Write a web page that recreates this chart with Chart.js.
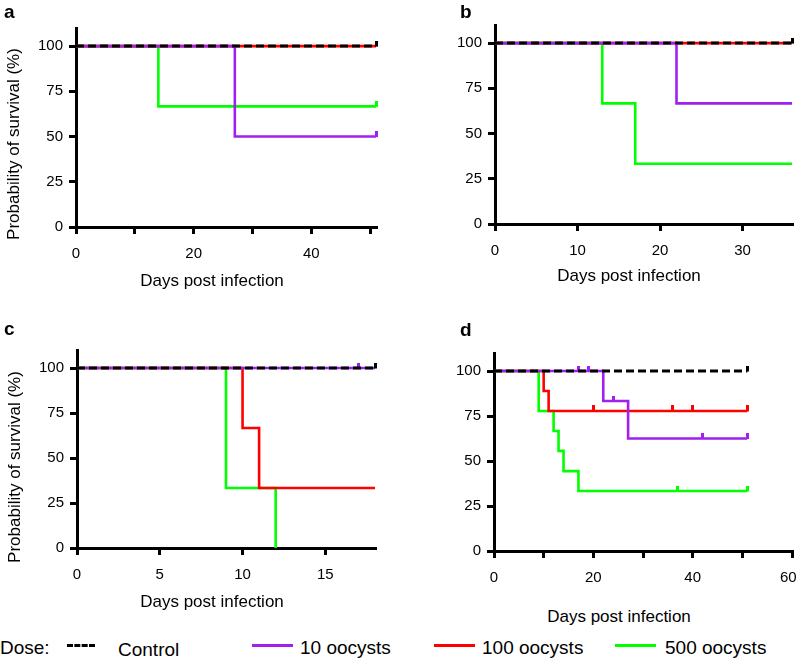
<!DOCTYPE html>
<html>
<head>
<meta charset="utf-8">
<script src="https://cdn.jsdelivr.net/npm/chart.js@4/dist/chart.umd.min.js"></script>
<style>
  html, body { margin: 0; padding: 0; background: #fff; }
  body { width: 797px; height: 660px; position: relative; overflow: hidden; font-family: "Liberation Sans", Arial, sans-serif; color: #000; }
  canvas { position: absolute; }
  .lbl { position: absolute; font-weight: bold; font-size: 19px; line-height: 19px; }
  .xt { position: absolute; width: 300px; text-align: center; font-size: 17px; line-height: 17px; white-space: nowrap; }
  .yt { position: absolute; width: 260px; height: 20px; text-align: center; font-size: 17px; line-height: 20px; white-space: nowrap; transform: rotate(-90deg); transform-origin: 50% 50%; }
  .lg { position: absolute; font-size: 19px; line-height: 19px; white-space: nowrap; }
  .sw { position: absolute; height: 0; width: 41px; }
</style>
</head>
<body>
<canvas id="ca" width="398" height="300" style="left:0;top:0"></canvas>
<canvas id="cb" width="397" height="300" style="left:400px;top:0"></canvas>
<canvas id="cc" width="398" height="300" style="left:0;top:300px"></canvas>
<canvas id="cd" width="397" height="300" style="left:400px;top:300px"></canvas>

<div class="lbl" style="left:4px;top:2px">a</div>
<div class="lbl" style="left:460px;top:2px">b</div>
<div class="lbl" style="left:4px;top:319px">c</div>
<div class="lbl" style="left:460px;top:320px">d</div>

<div class="yt" style="left:-116px;top:134px">Probability of survival (%)</div>
<div class="yt" style="left:-115px;top:457px">Probability of survival (%)</div>

<div class="xt" style="left:62px;top:272px">Days post infection</div>
<div class="xt" style="left:479px;top:267px">Days post infection</div>
<div class="xt" style="left:62px;top:593px">Days post infection</div>
<div class="xt" style="left:469px;top:608px">Days post infection</div>

<div class="lg" style="left:0;top:638px">Dose:</div>
<div class="sw" style="left:67px;top:644px;width:28px;border-top:3px dashed #000"></div>
<div class="lg" style="left:118px;top:640px">Control</div>
<div class="sw" style="left:252px;top:644px;border-top:3px solid #a020f0"></div>
<div class="lg" style="left:300px;top:638px">10 oocysts</div>
<div class="sw" style="left:434px;top:644px;border-top:3px solid #ff0000"></div>
<div class="lg" style="left:482px;top:638px">100 oocysts</div>
<div class="sw" style="left:615px;top:644px;border-top:3px solid #00ff00"></div>
<div class="lg" style="left:665px;top:638px">500 oocysts</div>

<script>
// ---------------- DATA ----------------
const seriesNames = ['Control', '10 oocysts', '100 oocysts', '500 oocysts'];
const yTicks = [0, 25, 50, 75, 100];

// Panel a
const aXMax = 51;
const aXTicks = [0, 10, 20, 30, 40, 50];
const aXLabels = [0, 20, 40];
const aControlDays = [0, 51],          aControlSurv = [100, 100];
const a10Days = [0, 27, 51],           a10Surv = [100, 50, 50];
const a100Days = [0, 51],              a100Surv = [100, 100];
const a500Days = [0, 14, 51],          a500Surv = [100, 66.7, 66.7];
const aControlCens = [51], aControlCensSurv = [100];
const a10Cens = [51],      a10CensSurv = [50];
const a100Cens = [],       a100CensSurv = [];
const a500Cens = [51],     a500CensSurv = [66.7];

// Panel b
const bXMax = 36;
const bXTicks = [0, 10, 20, 30];
const bXLabels = [0, 10, 20, 30];
const bControlDays = [0, 36],          bControlSurv = [100, 100];
const b10Days = [0, 22, 36],           b10Surv = [100, 66.7, 66.7];
const b100Days = [0, 36],              b100Surv = [100, 100];
const b500Days = [0, 13, 17, 36],      b500Surv = [100, 66.7, 33.3, 33.3];
const bControlCens = [36], bControlCensSurv = [100];
const b10Cens = [],        b10CensSurv = [];
const b100Cens = [],       b100CensSurv = [];
const b500Cens = [],       b500CensSurv = [];

// Panel c
const cXMax = 18;
const cXTicks = [0, 5, 10, 15];
const cXLabels = [0, 5, 10, 15];
const cControlDays = [0, 18],          cControlSurv = [100, 100];
const c10Days = [0, 18],               c10Surv = [100, 100];
const c100Days = [0, 10, 11, 18],      c100Surv = [100, 66.7, 33.3, 33.3];
const c500Days = [0, 9, 12],           c500Surv = [100, 33.3, 0];
const cControlCens = [18], cControlCensSurv = [100];
const c10Cens = [17],      c10CensSurv = [100];
const c100Cens = [],       c100CensSurv = [];
const c500Cens = [],       c500CensSurv = [];

// Panel d
const dXMax = 60;
const dXTicks = [0, 10, 20, 30, 40, 50, 60];
const dXLabels = [0, 20, 40, 60];
const dControlDays = [0, 51],                   dControlSurv = [100, 100];
const d10Days = [0, 22, 27, 51],                d10Surv = [100, 83.3, 62.5, 62.5];
const d100Days = [0, 10, 11, 51],               d100Surv = [100, 88.9, 77.8, 77.8];
const d500Days = [0, 9, 12, 13, 14, 17, 51],    d500Surv = [100, 77.8, 66.7, 55.6, 44.4, 33.3, 33.3];
const dControlCens = [51],              dControlCensSurv = [100];
const d10Cens = [17, 19, 24, 42, 51],   d10CensSurv = [100, 100, 83.3, 62.5, 62.5];
const d100Cens = [20, 36, 40, 51],      d100CensSurv = [77.8, 77.8, 77.8, 77.8];
const d500Cens = [37, 51],              d500CensSurv = [33.3, 33.3];

// ---------------- STYLE ----------------
const FONT = '"Liberation Sans", Arial, sans-serif';
const COLORS = ['#000000', '#a020f0', '#ff0000', '#00ff00'];
const ORDER = [0, 2, 4, 6]; // lower = drawn on top

function censorMark(color) {
  const c = document.createElement('canvas');
  c.width = 3; c.height = 11;
  const g = c.getContext('2d');
  g.fillStyle = color;
  g.fillRect(0, 0, 3, 6);
  return c;
}

function pts(xs, ys) { return xs.map((x, i) => ({ x: x, y: ys[i] })); }

function makePanel(id, p) {
  const datasets = [];
  p.series.forEach((s, i) => {
    datasets.push({
      label: seriesNames[i],
      data: pts(s.days, s.surv),
      stepped: true,
      borderColor: COLORS[i],
      borderWidth: i === 0 ? 3 : 2.6,
      borderDash: i === 0 ? [8, 4] : [],
      pointRadius: 0,
      fill: false,
      clip: false,
      order: ORDER[i]
    });
    if (s.cens.length) {
      datasets.push({
        label: seriesNames[i] + ' censored',
        data: pts(s.cens, s.censSurv),
        showLine: false,
        pointStyle: censorMark(COLORS[i]),
        pointRadius: 3,
        clip: false,
        order: ORDER[i] - 1
      });
    }
  });

  new Chart(document.getElementById(id), {
    type: 'line',
    data: { datasets },
    options: {
      responsive: false,
      animation: false,
      devicePixelRatio: 1,
      layout: { padding: p.pad },
      plugins: { legend: { display: false }, tooltip: { enabled: false } },
      scales: {
        x: {
          type: 'linear',
          min: 0, max: p.xMax,
          afterBuildTicks: (sc) => { sc.ticks = p.xTicks.map(v => ({ value: v })); },
          afterFit: (sc) => { sc.height = p.xH; sc.paddingLeft = 0; sc.paddingRight = 0; },
          grid: { display: true, drawOnChartArea: false, drawTicks: true, tickLength: 7, color: '#000', lineWidth: 3 },
          border: { display: true, color: '#000', width: 3 },
          ticks: {
            autoSkip: false, maxRotation: 0, padding: 11, color: '#000',
            font: { family: FONT, size: 15 },
            callback: (v) => {
              if (!p.xLabels.includes(v)) return '';
              // keep the last label inside the panel edge
              return (v === p.xMax && p.xMax === 60) ? String(v) + '\u2002' : String(v);
            }
          }
        },
        y: {
          type: 'linear',
          min: 0, max: 110,
          afterBuildTicks: (sc) => { sc.ticks = yTicks.map(v => ({ value: v })); },
          afterFit: (sc) => { sc.width = p.yW; sc.paddingTop = 0; sc.paddingBottom = 0; },
          grid: { display: true, drawOnChartArea: false, drawTicks: true, tickLength: 7, color: '#000', lineWidth: 3 },
          border: { display: true, color: '#000', width: 3 },
          ticks: { padding: 6, color: '#000', font: { family: FONT, size: 15 } }
        }
      }
    }
  });
}

makePanel('ca', {
  xMax: aXMax, xTicks: aXTicks, xLabels: aXLabels,
  pad: { left: 0, top: 28, right: 22, bottom: 0 }, yW: 76, xH: 73,
  series: [
    { days: aControlDays, surv: aControlSurv, cens: aControlCens, censSurv: aControlCensSurv },
    { days: a10Days, surv: a10Surv, cens: a10Cens, censSurv: a10CensSurv },
    { days: a100Days, surv: a100Surv, cens: a100Cens, censSurv: a100CensSurv },
    { days: a500Days, surv: a500Surv, cens: a500Cens, censSurv: a500CensSurv }
  ]
});
makePanel('cb', {
  xMax: bXMax, xTicks: bXTicks, xLabels: bXLabels,
  pad: { left: 0, top: 25, right: 4, bottom: 0 }, yW: 95, xH: 76,
  series: [
    { days: bControlDays, surv: bControlSurv, cens: bControlCens, censSurv: bControlCensSurv },
    { days: b10Days, surv: b10Surv, cens: b10Cens, censSurv: b10CensSurv },
    { days: b100Days, surv: b100Surv, cens: b100Cens, censSurv: b100CensSurv },
    { days: b500Days, surv: b500Surv, cens: b500Cens, censSurv: b500CensSurv }
  ]
});
makePanel('cc', {
  xMax: cXMax, xTicks: cXTicks, xLabels: cXLabels,
  pad: { left: 0, top: 50, right: 23, bottom: 0 }, yW: 77, xH: 52,
  series: [
    { days: cControlDays, surv: cControlSurv, cens: cControlCens, censSurv: cControlCensSurv },
    { days: c10Days, surv: c10Surv, cens: c10Cens, censSurv: c10CensSurv },
    { days: c100Days, surv: c100Surv, cens: c100Cens, censSurv: c100CensSurv },
    { days: c500Days, surv: c500Surv, cens: c500Cens, censSurv: c500CensSurv }
  ]
});
makePanel('cd', {
  xMax: dXMax, xTicks: dXTicks, xLabels: dXLabels,
  pad: { left: 0, top: 53, right: 5, bottom: 0 }, yW: 94, xH: 49,
  series: [
    { days: dControlDays, surv: dControlSurv, cens: dControlCens, censSurv: dControlCensSurv },
    { days: d10Days, surv: d10Surv, cens: d10Cens, censSurv: d10CensSurv },
    { days: d100Days, surv: d100Surv, cens: d100Cens, censSurv: d100CensSurv },
    { days: d500Days, surv: d500Surv, cens: d500Cens, censSurv: d500CensSurv }
  ]
});
</script>
</body>
</html>
